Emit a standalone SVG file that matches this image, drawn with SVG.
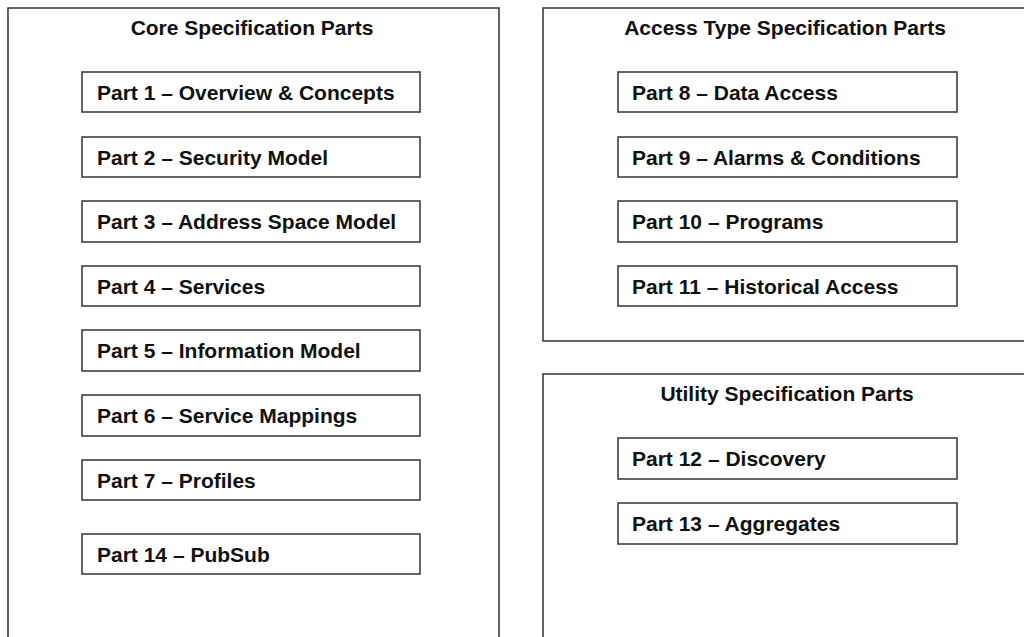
<svg xmlns="http://www.w3.org/2000/svg" width="1024" height="637" viewBox="0 0 1024 637">
<style>
.c{fill:#fff;stroke:#333;stroke-width:1.5}
.b{fill:#fff;stroke:#333;stroke-width:1.5}
.t{font-family:"Liberation Sans",Arial,sans-serif;font-weight:bold;font-size:21px;fill:#111}
.h{text-anchor:middle}
</style>
<rect width="1024" height="637" fill="#fff"/>
<g id="core">
<rect class="c" x="8" y="8" width="491" height="640"/>
<text class="t h" x="252" y="35">Core Specification Parts</text>
</g>
<g id="access">
<rect class="c" x="543" y="8" width="490" height="333"/>
<text class="t h" x="785" y="35">Access Type Specification Parts</text>
</g>
<g id="utility">
<rect class="c" x="543" y="374" width="490" height="280"/>
<text class="t h" x="787" y="401">Utility Specification Parts</text>
</g>
<g id="p1"><rect class="b" x="82" y="72" width="338" height="40"/><text class="t" x="97" y="100">Part 1 – Overview &amp; Concepts</text></g>
<g id="p2"><rect class="b" x="82" y="137" width="338" height="40"/><text class="t" x="97" y="165">Part 2 – Security Model</text></g>
<g id="p3"><rect class="b" x="82" y="201" width="338" height="41"/><text class="t" x="97" y="229">Part 3 – Address Space Model</text></g>
<g id="p4"><rect class="b" x="82" y="266" width="338" height="40"/><text class="t" x="97" y="294">Part 4 – Services</text></g>
<g id="p5"><rect class="b" x="82" y="330" width="338" height="41"/><text class="t" x="97" y="358">Part 5 – Information Model</text></g>
<g id="p6"><rect class="b" x="82" y="395" width="338" height="41"/><text class="t" x="97" y="423">Part 6 – Service Mappings</text></g>
<g id="p7"><rect class="b" x="82" y="460" width="338" height="40"/><text class="t" x="97" y="488">Part 7 – Profiles</text></g>
<g id="p14"><rect class="b" x="82" y="534" width="338" height="40"/><text class="t" x="97" y="562">Part 14 – PubSub</text></g>
<g id="p8"><rect class="b" x="618" y="72" width="339" height="40"/><text class="t" x="632" y="100">Part 8 – Data Access</text></g>
<g id="p9"><rect class="b" x="618" y="137" width="339" height="40"/><text class="t" x="632" y="165">Part 9 – Alarms &amp; Conditions</text></g>
<g id="p10"><rect class="b" x="618" y="201" width="339" height="41"/><text class="t" x="632" y="229">Part 10 – Programs</text></g>
<g id="p11"><rect class="b" x="618" y="266" width="339" height="40"/><text class="t" x="632" y="294">Part 11 – Historical Access</text></g>
<g id="p12"><rect class="b" x="618" y="438" width="339" height="41"/><text class="t" x="632" y="466">Part 12 – Discovery</text></g>
<g id="p13"><rect class="b" x="618" y="503" width="339" height="41"/><text class="t" x="632" y="531">Part 13 – Aggregates</text></g>
<g id="connectors"/>
</svg>
